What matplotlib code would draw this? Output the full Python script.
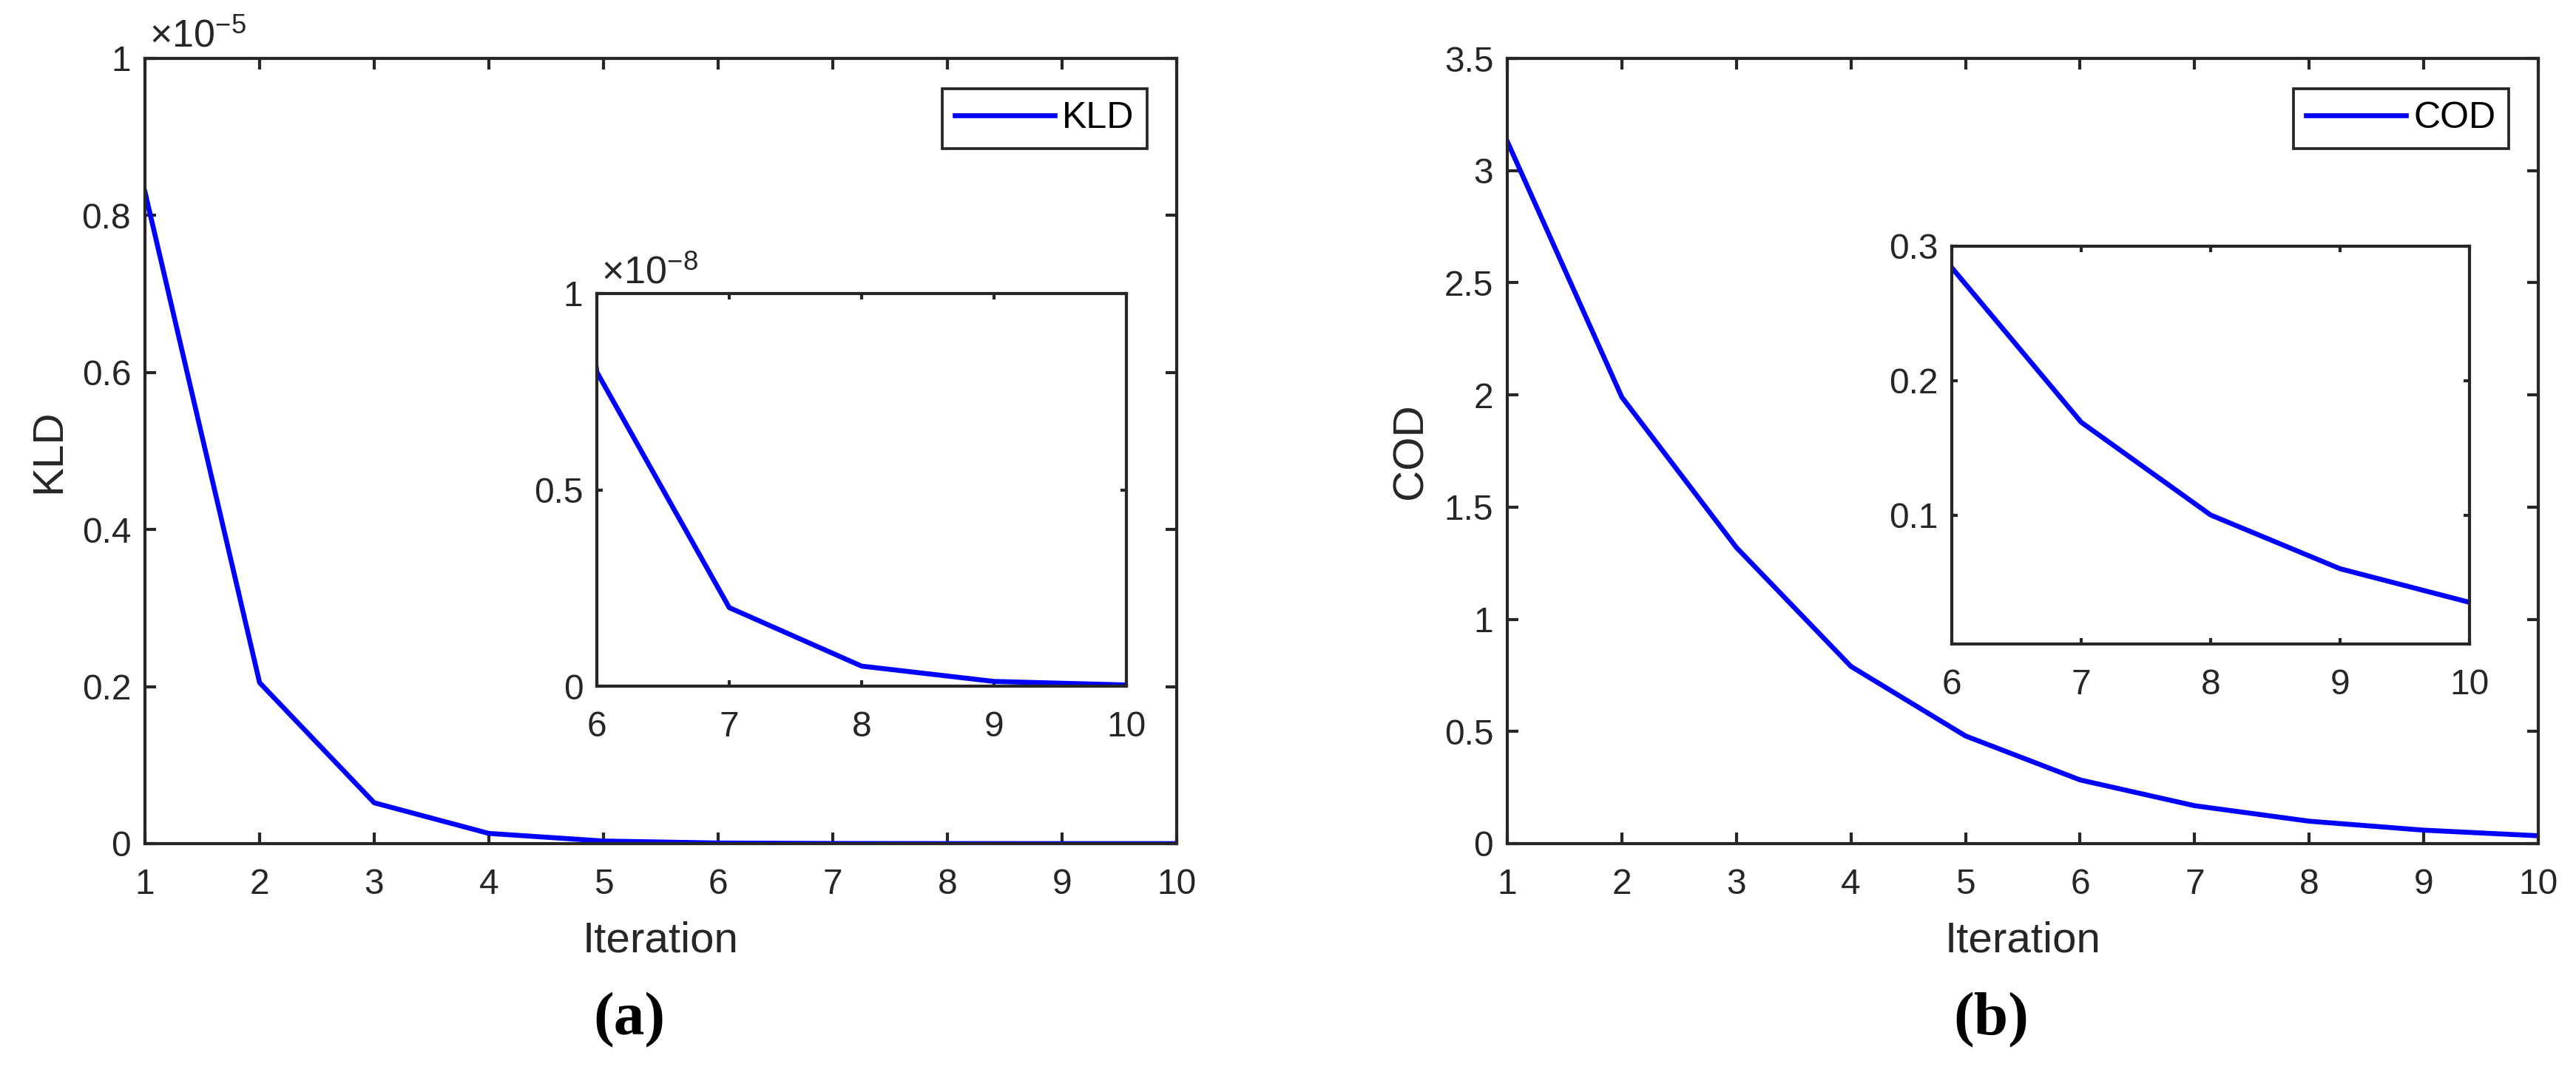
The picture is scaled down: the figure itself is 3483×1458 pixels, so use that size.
import matplotlib
matplotlib.use("Agg")
import matplotlib.pyplot as plt
from matplotlib.ticker import FuncFormatter, FixedLocator

# ---------------- data ----------------
iterations = [1, 2, 3, 4, 5, 6, 7, 8, 9, 10]
kld_values = [8.3e-6, 2.05e-6, 5.2e-7, 1.3e-7, 3.3e-8, 8.0e-9, 2.0e-9, 5.1e-10, 1.2e-10, 3e-11]
cod_values = [3.13, 1.99, 1.32, 0.79, 0.48, 0.284, 0.169, 0.100, 0.060, 0.035]

kld_yticks = [0, 0.2e-5, 0.4e-5, 0.6e-5, 0.8e-5, 1e-5]
kld_inset_yticks = [0, 0.5e-8, 1e-8]
cod_yticks = [0, 0.5, 1, 1.5, 2, 2.5, 3, 3.5]
cod_inset_yticks = [0.1, 0.2, 0.3]
inset_xticks = [6, 7, 8, 9, 10]

# ---------------- style ----------------
plt.rcParams['font.family'] = ['Liberation Sans', 'DejaVu Sans']
plt.rcParams['mathtext.fontset'] = 'custom'
plt.rcParams['mathtext.rm'] = 'Liberation Sans'
plt.rcParams['mathtext.it'] = 'Liberation Sans:italic'
plt.rcParams['mathtext.bf'] = 'Liberation Sans:bold'

AX = '#262626'
BLUE = '#0000FF'
TICK_FS = 11.5
LABEL_FS = 14
LW = 1.6

W, H = 3483, 1458
DPI = 300
fig = plt.figure(figsize=(W / DPI, H / DPI), dpi=DPI)


def px_axes(x0, y0, x1, y1):
    """axes from pixel box (top-left origin)."""
    return fig.add_axes([x0 / W, 1 - y1 / H, (x1 - x0) / W, (y1 - y0) / H])


def style_axes(ax, ticklen):
    for s in ax.spines.values():
        s.set_color(AX)
        s.set_linewidth(1.0)
    ax.tick_params(axis='both', which='both', direction='in', top=True, right=True,
                   length=ticklen, width=1.0, color=AX, labelcolor=AX,
                   labelsize=TICK_FS)
    ax.tick_params(axis='x', pad=8)
    ax.tick_params(axis='y', pad=4.5)


def scaled_fmt(scale):
    return FuncFormatter(lambda v, p: f"{v / scale:g}")


# ---------------- panel (a) ----------------
axA = px_axes(196, 79, 1591, 1141)
axA.plot(iterations, kld_values, color=BLUE, lw=LW, label='KLD')
axA.set_xlim(1, 10)
axA.set_ylim(0, 1e-5)
axA.xaxis.set_major_locator(FixedLocator(iterations))
axA.yaxis.set_major_locator(FixedLocator(kld_yticks))
axA.yaxis.set_major_formatter(scaled_fmt(1e-5))
style_axes(axA, 3.6)
axA.set_xlabel('Iteration', fontsize=LABEL_FS, color=AX)
axA.set_ylabel('KLD', fontsize=LABEL_FS, color=AX)
axA.xaxis.set_label_coords(0.5, -0.098)
axA.yaxis.set_label_coords(-0.074, 0.5)
axA.text(0.004, 1.004, r'$\times10^{-5}$', transform=axA.transAxes, ha='left', va='bottom',
         fontsize=12.5, color=AX)
legA = axA.legend(loc='upper right', bbox_to_anchor=(0.9713, 0.9614), borderaxespad=0,
                  fontsize=12, handlelength=2.7, handletextpad=0.2, borderpad=0.35,
                  fancybox=False, framealpha=1, edgecolor=AX)
legA.get_frame().set_linewidth(0.9)

# inset (a)
axAi = px_axes(807, 397, 1523, 928)
axAi.plot(iterations, kld_values, color=BLUE, lw=LW)
axAi.set_xlim(6, 10)
axAi.set_ylim(0, 1e-8)
axAi.xaxis.set_major_locator(FixedLocator(inset_xticks))
axAi.yaxis.set_major_locator(FixedLocator(kld_inset_yticks))
axAi.yaxis.set_major_formatter(scaled_fmt(1e-8))
style_axes(axAi, 2.0)
axAi.text(0.008, 1.004, r'$\times10^{-8}$', transform=axAi.transAxes, ha='left', va='bottom',
          fontsize=12.5, color=AX)

# ---------------- panel (b) ----------------
axB = px_axes(2038, 79, 3432, 1141)
axB.plot(iterations, cod_values, color=BLUE, lw=LW, label='COD')
axB.set_xlim(1, 10)
axB.set_ylim(0, 3.5)
axB.xaxis.set_major_locator(FixedLocator(iterations))
axB.yaxis.set_major_locator(FixedLocator(cod_yticks))
axB.yaxis.set_major_formatter(scaled_fmt(1))
style_axes(axB, 3.6)
axB.set_xlabel('Iteration', fontsize=LABEL_FS, color=AX)
axB.set_ylabel('COD', fontsize=LABEL_FS, color=AX)
axB.xaxis.set_label_coords(0.5, -0.098)
axB.yaxis.set_label_coords(-0.074, 0.5)
legB = axB.legend(loc='upper right', bbox_to_anchor=(0.9713, 0.9614), borderaxespad=0,
                  fontsize=12, handlelength=2.7, handletextpad=0.2, borderpad=0.35,
                  fancybox=False, framealpha=1, edgecolor=AX)
legB.get_frame().set_linewidth(0.9)

# inset (b)
axBi = px_axes(2639, 333, 3339, 871)
axBi.plot(iterations, cod_values, color=BLUE, lw=LW)
axBi.set_xlim(6, 10)
axBi.set_ylim(0.004, 0.3)
axBi.xaxis.set_major_locator(FixedLocator(inset_xticks))
axBi.yaxis.set_major_locator(FixedLocator(cod_inset_yticks))
axBi.yaxis.set_major_formatter(scaled_fmt(1))
style_axes(axBi, 2.0)

# ---------------- sub-captions ----------------
fig.text(851 / W, 1 - 1380 / H, '(a)', ha='center', va='center', fontsize=20,
         fontweight='bold', family='Liberation Serif', color='black')
fig.text(2692 / W, 1 - 1380 / H, '(b)', ha='center', va='center', fontsize=20,
         fontweight='bold', family='Liberation Serif', color='black')

fig.savefig('out.png', dpi=DPI, facecolor='white')
